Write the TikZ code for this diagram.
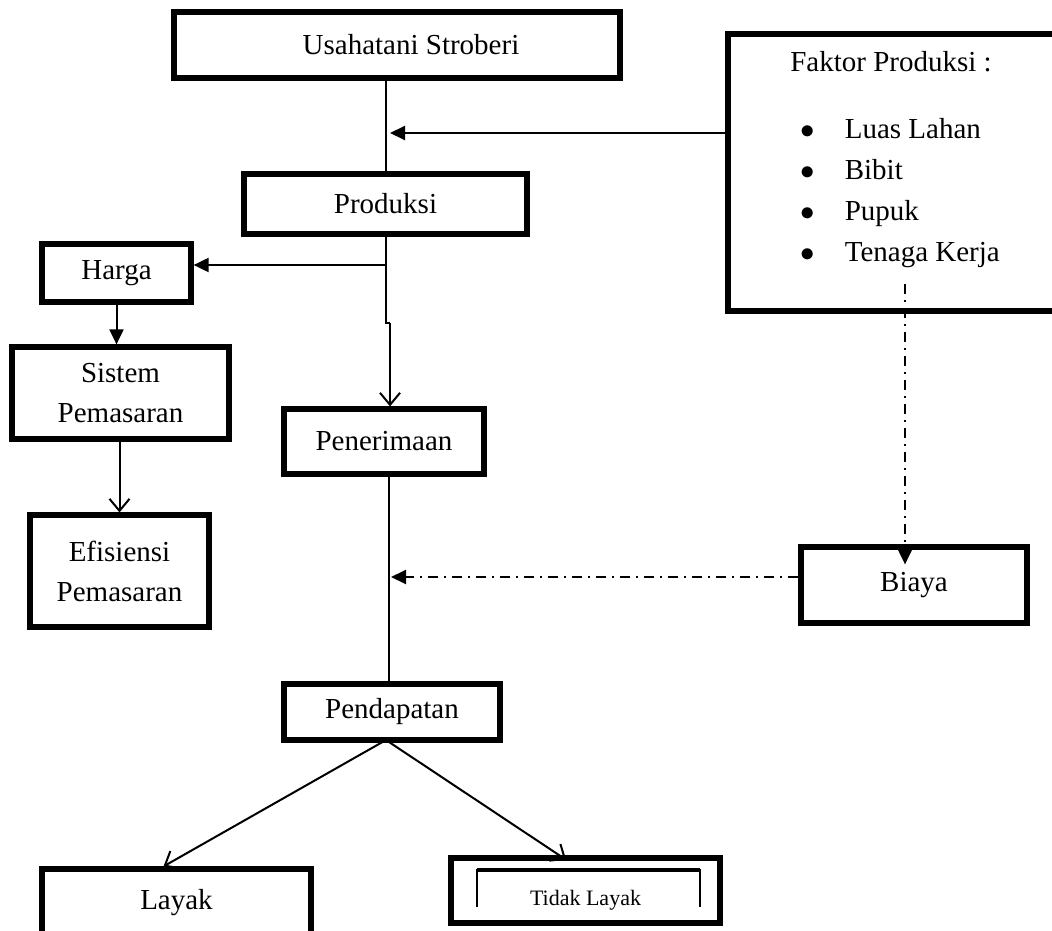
\documentclass[tikz,border=0pt]{standalone}
\usepackage{fontspec}
\setmainfont{Liberation Serif}
\usetikzlibrary{arrows.meta, positioning, calc}

\begin{document}
\begin{tikzpicture}[x=0.5pt,y=-0.5pt,>=stealth]
    % styles
    \tikzset{kotak/.style={draw,line width=2.6pt,inner sep=0pt,align=center,font=\fontsize{14.5}{20}\selectfont},
             garis/.style={line width=1pt},
             panah/.style={garis,-{Straight Barb[length=6pt,width=10pt]}},
             panahpenuh/.style={garis,-{Triangle[length=7.5pt,width=7pt]}},
             titiktitik/.style={garis,dash pattern=on 5pt off 3pt on 1pt off 3pt}}
    \useasboundingbox (0,0) rectangle (1052,930);

    % nodes
    \node[kotak,minimum width=223pt,minimum height=33pt]   (usaha)  at (397,45)    {\hspace{14pt}Usahatani Stroberi};
    \node[kotak,minimum width=141.5pt,minimum height=30pt] (prod)   at (385.5,204) {Produksi};
    \node[kotak,minimum width=164pt,minimum height=138.5pt] (faktor) at (892,172.5) {};
    \node[kotak,minimum width=74.5pt,minimum height=29pt]  (harga)  at (116.5,273) {Harga};
    \node[kotak,minimum width=108.5pt,minimum height=46pt] (sistem) at (120.5,393) {Sistem\\Pemasaran};
    \node[kotak,minimum width=89.5pt,minimum height=56pt]  (efis)   at (119.5,571) {Efisiensi\\Pemasaran};
    \node[kotak,minimum width=100pt,minimum height=32.5pt] (pener)  at (384,441.5) {Penerimaan};
    \node[kotak,minimum width=108pt,minimum height=28pt]   (penda)  at (392,712)   {Pendapatan};
    \node[kotak,minimum width=113pt,minimum height=38pt]   (biaya)  at (914,585)   {Biaya};
    \node[kotak,minimum width=134.5pt,minimum height=34pt] (layak)  at (176.5,903) {\raisebox{1pt}{Layak}};
    \node[kotak,minimum width=134.5pt,minimum height=32.5pt,font=\fontsize{11}{13}\selectfont] (tidak) at (585.5,890.5) {\raisebox{-7.3pt}[0pt][0pt]{Tidak Layak}};

    % faktor produksi text
    \node[anchor=base,font=\fontsize{14.5}{20}\selectfont] (faktorjudul) at (891,72) {Faktor Produksi :};
    \node[anchor=base west,inner sep=0pt,font=\fontsize{14.5}{20.5}\selectfont] (faktorlist) at (800,139) {%
        \begin{tabular}[t]{@{}l@{\hspace{15pt}}l@{}}
            $\bullet$ & Luas Lahan\\
            $\bullet$ & Bibit\\
            $\bullet$ & Pupuk\\
            $\bullet$ & Tenaga Kerja
        \end{tabular}};

    % inner frame of tidak layak
    \draw[line width=1pt] ($(tidak.north west)+(29,52)$) -- ($(tidak.north west)+(29,15)$)
        -- ($(tidak.north east)+(-23,15)$) -- ($(tidak.north east)+(-23,52)$);
    \draw[line width=2pt] ($(tidak.north west)+(29,15)$) -- ($(tidak.north east)+(-23,15)$);

    % junctions
    \coordinate (jtop)    at (386,133);
    \coordinate (jharga)  at (386,265);
    \coordinate (jstep)   at (386,323);
    \coordinate (jstep2)  at (390,323);
    \coordinate (jbiaya)  at (389,577);
    \coordinate (jfaktor) at (905,284);
    \coordinate (jsplit)  at (386,740);

    % edges
    \draw[garis] (usaha.south -| jtop) -- (prod.north -| jtop);
    \draw[panahpenuh,shorten >=2pt] (faktor.west |- jtop) -- (jtop);

    \draw[garis] (prod.south -| jharga) -- (jstep) -- (jstep2);
    \draw[panah] (jstep2) -- (pener.north -| jstep2);
    \draw[panahpenuh] (jharga) -- (harga.east |- jharga);

    \draw[panahpenuh] (harga.south) -- (harga.south |- sistem.north);
    \draw[panah] (efis.north |- sistem.south) -- (efis.north);

    \draw[garis] (pener.south -| jbiaya) -- (penda.north -| jbiaya);
    \draw[titiktitik,-{Triangle[length=7.5pt,width=7pt]},shorten >=1pt] (biaya.west |- jbiaya) -- (jbiaya);
    \draw[titiktitik,-{Triangle[length=7.5pt,width=7pt]},shorten >=-10pt] (jfaktor) -- (biaya.north -| jfaktor);

    \draw[panah] (jsplit) -- ($(layak.north)+(-13,0)$);
    \draw[panah,shorten >=-4pt] (jsplit) -- ($(tidak.north)+(-26,0)$);
\end{tikzpicture}
\end{document}
